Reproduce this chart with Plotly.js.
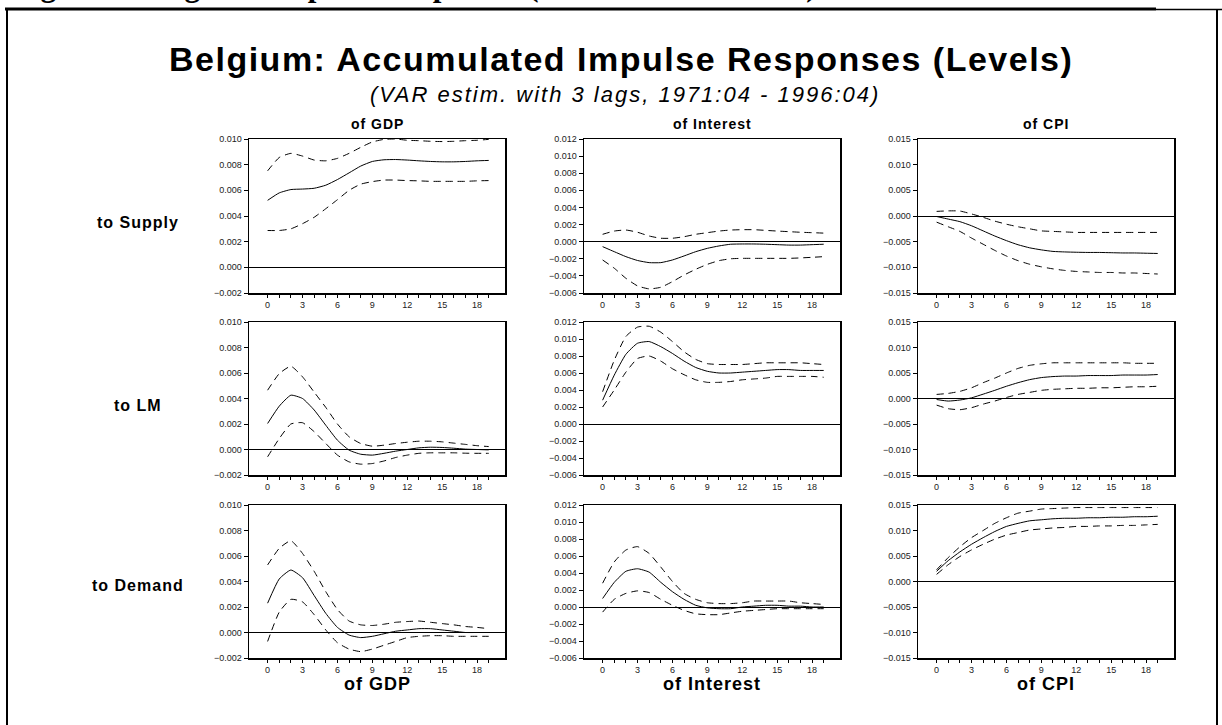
<!DOCTYPE html>
<html>
<head>
<meta charset="utf-8">
<script src="https://cdn.plot.ly/plotly-3.0.1.min.js"></script>
<style>
html, body { margin: 0; padding: 0; background: #ffffff; }
#chart { width: 1222px; height: 725px; }
</style>
</head>
<body>
<div id="chart"></div>
<script>
// ---------------- DATA ----------------
const horizons = [0,1,2,3,4,5,6,7,8,9,10,11,12,13,14,15,16,17,18,19];
const xTickVals = [0,3,6,9,12,15,18];
const xTickText = ["0","3","6","9","12","15","18"];
const shockNames = ["to Supply", "to LM", "to Demand"];
const variableNames = ["of GDP", "of Interest", "of CPI"];

// Supply shock
const supplyGDP_mid = [0.00522,0.0058,0.00606,0.0061,0.00616,0.0064,0.00684,0.00736,0.00789,0.00825,0.00838,0.0084,0.00836,0.0083,0.00825,0.00822,0.00822,0.00825,0.0083,0.00833];
const supplyGDP_up  = [0.00752,0.00856,0.00888,0.00867,0.00836,0.0083,0.00849,0.00888,0.00935,0.00977,0.00997,0.0100,0.0099,0.00987,0.00982,0.0098,0.00982,0.00987,0.0099,0.00997];
const supplyGDP_lo  = [0.00287,0.00287,0.0030,0.0034,0.0039,0.00457,0.00527,0.0060,0.00648,0.00668,0.0068,0.0068,0.00676,0.00674,0.0067,0.0067,0.0067,0.0067,0.00674,0.00676];

const supplyINT_mid = [-0.00058,-0.00117,-0.00175,-0.0022,-0.00245,-0.00245,-0.00214,-0.00167,-0.00117,-0.00078,-0.0005,-0.0003,-0.00027,-0.00027,-0.0003,-0.00035,-0.0004,-0.0004,-0.00035,-0.0003];
const supplyINT_up  = [0.00086,0.00124,0.00136,0.0011,0.00066,0.0004,0.0004,0.00058,0.00086,0.00105,0.00124,0.00136,0.0014,0.0014,0.00132,0.00124,0.00117,0.0011,0.00105,0.0010];
const supplyINT_lo  = [-0.00214,-0.0031,-0.00428,-0.00517,-0.00552,-0.00533,-0.00467,-0.0039,-0.00323,-0.00265,-0.00222,-0.0020,-0.00195,-0.00195,-0.00195,-0.00195,-0.00195,-0.0019,-0.00183,-0.00175];

const supplyCPI_mid = [-0.0001,-0.0006,-0.0011,-0.0019,-0.0029,-0.0039,-0.0048,-0.0056,-0.0062,-0.0066,-0.0069,-0.0070,-0.00706,-0.0071,-0.0071,-0.00715,-0.0072,-0.0072,-0.00725,-0.0073];
const supplyCPI_up  = [0.0009,0.0010,0.00097,0.0004,-0.00026,-0.0010,-0.0016,-0.0021,-0.0025,-0.0029,-0.0030,-0.0031,-0.0032,-0.0032,-0.0032,-0.0032,-0.0032,-0.0032,-0.0032,-0.0032];
const supplyCPI_lo  = [-0.0012,-0.0021,-0.0030,-0.0043,-0.0055,-0.0067,-0.0078,-0.0087,-0.0094,-0.0099,-0.0103,-0.0106,-0.0108,-0.0109,-0.0110,-0.0110,-0.0111,-0.0111,-0.0112,-0.0113];

// LM shock
const lmGDP_mid = [0.00204,0.0034,0.00426,0.0040,0.0031,0.0019,0.00073,-0.00005,-0.00037,-0.00044,-0.0003,-0.00013,0.0,0.00013,0.00018,0.00016,0.0001,0.00003,0.0,-0.00003];
const lmGDP_up  = [0.00465,0.00595,0.00653,0.0057,0.0045,0.0033,0.0020,0.0010,0.00047,0.00026,0.00034,0.00047,0.00057,0.00065,0.00065,0.0006,0.0005,0.0004,0.0003,0.00023];
const lmGDP_lo  = [-0.00057,0.00086,0.0020,0.0021,0.0014,0.00047,-0.00044,-0.00097,-0.00115,-0.0011,-0.0009,-0.00063,-0.00044,-0.0003,-0.00026,-0.00026,-0.00026,-0.00029,-0.0003,-0.0003];

const lmINT_mid = [0.0028,0.00575,0.0082,0.0095,0.0097,0.0091,0.0083,0.0074,0.00665,0.0062,0.0060,0.0060,0.0061,0.0062,0.0063,0.0064,0.0064,0.0063,0.0063,0.0063];
const lmINT_up  = [0.0038,0.0075,0.0103,0.0114,0.0115,0.0108,0.0097,0.0085,0.0076,0.0071,0.0070,0.0070,0.0070,0.0071,0.0072,0.0072,0.0072,0.0072,0.0071,0.0070];
const lmINT_lo  = [0.0020,0.0040,0.0061,0.0077,0.0080,0.0074,0.0065,0.0058,0.0052,0.0049,0.0049,0.0050,0.0052,0.0053,0.0054,0.0056,0.0056,0.0056,0.0056,0.0055];

const lmCPI_mid = [-0.0002,-0.0005,-0.0003,0.00013,0.00085,0.0016,0.0024,0.0031,0.0037,0.0041,0.0043,0.0044,0.0044,0.0045,0.0045,0.0045,0.0046,0.0046,0.0046,0.0047];
const lmCPI_up  = [0.0008,0.0010,0.0014,0.0021,0.0031,0.0040,0.0050,0.0059,0.0065,0.0068,0.0070,0.0070,0.0070,0.0070,0.0070,0.0070,0.0070,0.0069,0.0069,0.0069];
const lmCPI_lo  = [-0.0013,-0.0020,-0.0022,-0.0018,-0.0011,-0.0005,0.0002,0.0008,0.0012,0.0016,0.0018,0.0019,0.0020,0.0020,0.0021,0.0021,0.0022,0.0023,0.0023,0.0024];

// Demand shock
const demGDP_mid = [0.0023,0.0042,0.0049,0.0043,0.0029,0.0015,0.0004,-0.0002,-0.0004,-0.0003,-0.0001,0.0001,0.0002,0.0003,0.0003,0.0002,0.0001,0.0,0.0,0.0];
const demGDP_up  = [0.0053,0.0066,0.0072,0.0062,0.0048,0.0032,0.0018,0.0009,0.0006,0.00055,0.00065,0.0008,0.00086,0.0009,0.0008,0.0007,0.0006,0.00047,0.0004,0.0003];
const demGDP_lo  = [-0.0007,0.0016,0.0026,0.0024,0.0014,0.0002,-0.0008,-0.0013,-0.0015,-0.0013,-0.0010,-0.0007,-0.0004,-0.0003,-0.00025,-0.00025,-0.0003,-0.0003,-0.0003,-0.0003];

const demINT_mid = [0.0010,0.0029,0.0042,0.0045,0.0041,0.0029,0.0018,0.0009,0.0002,-0.0001,-0.0002,-0.0002,0.0,0.0001,0.0002,0.0002,0.0001,0.0001,0.0,0.0];
const demINT_up  = [0.0028,0.0053,0.0067,0.0071,0.0063,0.0047,0.0030,0.0016,0.0009,0.0005,0.0004,0.0004,0.0005,0.0007,0.0007,0.0007,0.0007,0.0005,0.0004,0.0003];
const demINT_lo  = [-0.0006,0.0009,0.0016,0.0019,0.0017,0.0009,0.0002,-0.0004,-0.0008,-0.0009,-0.0009,-0.0007,-0.0005,-0.0004,-0.0003,-0.0002,-0.0002,-0.0002,-0.0002,-0.0002];

const demCPI_mid = [0.0020,0.0041,0.0058,0.0073,0.0086,0.0098,0.0108,0.0114,0.0119,0.0121,0.0123,0.0124,0.0124,0.0125,0.0125,0.0126,0.0126,0.0127,0.0127,0.0128];
const demCPI_up  = [0.0023,0.0047,0.0068,0.0086,0.0100,0.0114,0.0125,0.0134,0.0138,0.0142,0.0143,0.0144,0.0145,0.0145,0.0145,0.0145,0.0145,0.0145,0.0145,0.0145];
const demCPI_lo  = [0.0014,0.0033,0.0049,0.0062,0.0073,0.0083,0.0091,0.0096,0.0101,0.0103,0.0105,0.0106,0.0108,0.0108,0.0109,0.0109,0.0110,0.0110,0.0111,0.0112];

const yRangeByVariable = [[-0.002, 0.010], [-0.006, 0.012], [-0.015, 0.015]];
const yDtickByVariable = [0.002, 0.002, 0.005];

// ---------------- BUILD ----------------
const W = 1222, H = 725;
const panels = [
  [[supplyGDP_mid, supplyGDP_up, supplyGDP_lo], [supplyINT_mid, supplyINT_up, supplyINT_lo], [supplyCPI_mid, supplyCPI_up, supplyCPI_lo]],
  [[lmGDP_mid, lmGDP_up, lmGDP_lo], [lmINT_mid, lmINT_up, lmINT_lo], [lmCPI_mid, lmCPI_up, lmCPI_lo]],
  [[demGDP_mid, demGDP_up, demGDP_lo], [demINT_mid, demINT_up, demINT_lo], [demCPI_mid, demCPI_up, demCPI_lo]]
];

// pixel geometry of plot areas
const colPx = [[249, 505], [584, 840], [918, 1174]];
const rowPx = [[139, 293], [322, 475], [505, 658]];
const px2x = p => p / W;
const px2y = p => 1 - p / H;

const FONT = "Arial, 'Liberation Sans', sans-serif";
const data = [];
const layout = {
  width: W, height: H,
  margin: {l: 0, r: 0, t: 0, b: 0},
  paper_bgcolor: "#ffffff",
  plot_bgcolor: "#ffffff",
  showlegend: false,
  font: {family: FONT, color: "#000"},
  annotations: [],
  shapes: []
};

const dashStyle = "7px,5px";
for (let r = 0; r < 3; r++) {
  for (let c = 0; c < 3; c++) {
    const k = r * 3 + c + 1;
    const xa = k === 1 ? "x" : "x" + k;
    const ya = k === 1 ? "y" : "y" + k;
    const [mid, up, lo] = panels[r][c];
    data.push({x: horizons, y: up, xaxis: xa, yaxis: ya, mode: "lines", line: {color: "#000", width: 1, dash: dashStyle, shape: "spline", smoothing: 0.5}, hoverinfo: "skip"});
    data.push({x: horizons, y: lo, xaxis: xa, yaxis: ya, mode: "lines", line: {color: "#000", width: 1, dash: dashStyle, shape: "spline", smoothing: 0.5}, hoverinfo: "skip"});
    data.push({x: horizons, y: mid, xaxis: xa, yaxis: ya, mode: "lines", line: {color: "#000", width: 1, shape: "spline", smoothing: 0.5}, hoverinfo: "skip"});

    const xKey = k === 1 ? "xaxis" : "xaxis" + k;
    const yKey = k === 1 ? "yaxis" : "yaxis" + k;
    layout[xKey] = {
      domain: [px2x(colPx[c][0]), px2x(colPx[c][1])],
      anchor: ya,
      range: [-1.6, 20.4],
      tickmode: "array", tickvals: xTickVals, ticktext: xTickText,
      ticks: "outside", ticklen: 3, tickwidth: 1, tickcolor: "#000",
      minor: {tickmode: "array", tickvals: horizons, ticks: "outside", ticklen: 3, tickwidth: 1, tickcolor: "#000", showgrid: false},
      showline: true, linecolor: "#000", linewidth: 1.5, mirror: true,
      showgrid: false, zeroline: false,
      tickfont: {family: FONT, size: 9, color: "#222"},
      fixedrange: true
    };
    layout[yKey] = {
      domain: [px2y(rowPx[r][1]), px2y(rowPx[r][0])],
      anchor: xa,
      range: yRangeByVariable[c],
      dtick: yDtickByVariable[c], tick0: 0,
      tickformat: ".3f",
      ticks: "outside", ticklen: 4, tickwidth: 1, tickcolor: "#000",
      showline: true, linecolor: "#000", linewidth: 1.5, mirror: true,
      showgrid: false,
      zeroline: true, zerolinecolor: "#000", zerolinewidth: 1,
      tickfont: {family: FONT, size: 9, color: "#222"},
      fixedrange: true
    };
  }
}

function ann(text, xp, yp, size, opts) {
  return Object.assign({
    text: text, xref: "paper", yref: "paper", x: px2x(xp), y: px2y(yp),
    xanchor: "center", yanchor: "middle", showarrow: false,
    font: {family: FONT, size: size, color: "#000"}
  }, opts || {});
}
const spaced = (t, px) => "<span style=\"letter-spacing:" + px + "px\">" + t + "</span>";

// cut-off caption at very top (only its lowest part is visible, as in the source page)
layout.annotations.push(ann("<b>Figure 4: Belgium: Impulse Responses (Accumulated Levels)</b>", 12, 4, 31,
  {xanchor: "left", yanchor: "bottom", borderpad: 0, font: {family: "'Liberation Serif', 'Times New Roman', serif", size: 31, color: "#000"}}));

// titles (source text is horizontally stretched: emulate with letter-spacing)
layout.annotations.push(ann(spaced("<b>Belgium: Accumulated Impulse Responses (Levels)</b>", 1.5), 621, 59, 34));
layout.annotations.push(ann(spaced("<i>(VAR estim. with 3 lags, 1971:04 - 1996:04)</i>", 2), 625, 94, 22));

// column headers & bottom labels
for (let c = 0; c < 3; c++) {
  const cx = (colPx[c][0] + colPx[c][1]) / 2;
  layout.annotations.push(ann(spaced("<b>" + variableNames[c] + "</b>", 1), cx, 124, 14));
  layout.annotations.push(ann(spaced("<b>" + variableNames[c] + "</b>", 1), cx, 684, 18));
}
// row labels
const rowLabelY = [222, 405, 585];
for (let r = 0; r < 3; r++) {
  layout.annotations.push(ann(spaced("<b>" + shockNames[r] + "</b>", 1), 138, rowLabelY[r], 16));
}

// frame lines
layout.shapes.push({type: "line", xref: "paper", yref: "paper", x0: px2x(5), x1: px2x(1156), y0: px2y(9), y1: px2y(9), line: {color: "#000", width: 3}});
layout.shapes.push({type: "line", xref: "paper", yref: "paper", x0: px2x(1156), x1: px2x(1222), y0: px2y(9.5), y1: px2y(9.5), line: {color: "#000", width: 1.5}});
layout.shapes.push({type: "line", xref: "paper", yref: "paper", x0: px2x(7), x1: px2x(7), y0: px2y(9), y1: px2y(726), line: {color: "#000", width: 2}});
layout.shapes.push({type: "line", xref: "paper", yref: "paper", x0: px2x(1217), x1: px2x(1217), y0: px2y(9), y1: px2y(726), line: {color: "#000", width: 2}});

Plotly.newPlot("chart", data, layout, {displayModeBar: false, staticPlot: true});
</script>
</body>
</html>
